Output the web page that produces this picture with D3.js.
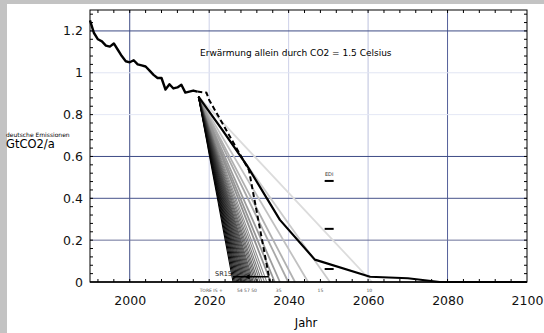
<!DOCTYPE html>
<html>
<head>
<meta charset="utf-8">
<script src="https://cdn.jsdelivr.net/npm/d3@7/dist/d3.min.js"></script>
<style>
  html, body { margin: 0; padding: 0; background: #c3c3c3; }
  svg { display: block; }
</style>
</head>
<body>
<div id="chart"></div>
<script>
// historical German emissions (GtCO2/a)
const histYears = [1990, 1991, 1992, 1993, 1994, 1995, 1996, 1997, 1998, 1999, 2000, 2001, 2002, 2003, 2004,
  2005, 2006, 2007, 2008, 2009, 2010, 2011, 2012, 2013, 2014, 2015, 2016, 2017];
const histValues = [1.25, 1.19, 1.16, 1.15, 1.13, 1.125, 1.14, 1.11, 1.08, 1.055, 1.05, 1.06, 1.04, 1.035, 1.03,
  1.01, 0.99, 0.975, 0.975, 0.92, 0.945, 0.925, 0.93, 0.943, 0.905, 0.91, 0.915, 0.91];

// dashed path
const dashYears = [2017, 2019.3, 2020, 2030, 2035.3];
const dashValues = [0.91, 0.905, 0.87, 0.535, 0];

// thick solid projection
const projYears = [2017.3, 2023.3, 2029.4, 2037.8, 2046.6, 2060.5, 2070, 2078, 2100];
const projValues = [0.886, 0.727, 0.56, 0.297, 0.107, 0.025, 0.018, 0, 0];

// fan of linear reduction paths: start point and end years
const fanStart = [2017.3, 0.886];
const fanEnds = [2026.0, 2026.3, 2026.6, 2026.9, 2027.2, 2027.5, 2027.8, 2028.1, 2028.4, 2028.7, 2029.0,
  2029.3, 2029.6, 2029.9, 2030.2, 2030.5, 2030.8, 2031.1, 2031.5, 2031.9, 2032.3, 2032.8, 2033.3, 2033.9,
  2034.5, 2035.5, 2036.5, 2037.8, 2039.9, 2041.6, 2044.9, 2050.4, 2061];

// EDI marks (year 2050)
const ediYear = 2050.2;
const ediValues = [0.483, 0.254, 0.062];

// SR15 bar
const sr15Years = [2026, 2035];
const sr15Value = 0.025;

// small budget labels under the axis
const budgetLabels = [
  { year: 2020.5, text: 'TORE IS +' },
  { year: 2029.5, text: '54  57  50' },
  { year: 2037.5, text: '35' },
  { year: 2048, text: '15' },
  { year: 2060.3, text: '10' }
];

const xTicks = [2000, 2020, 2040, 2060, 2080, 2100];
const yTicks = [0, 0.2, 0.4, 0.6, 0.8, 1, 1.2];

const W = 544, H = 333;
const svg = d3.select('#chart').append('svg')
  .attr('width', W)
  .attr('height', H);

// white panel on grey frame
svg.append('rect')
  .attr('x', 7).attr('y', 4)
  .attr('width', W - 7).attr('height', H - 4)
  .attr('fill', '#fff');

const x = d3.scaleLinear().domain([1990, 2100]).range([90, 527]);
const y = d3.scaleLinear().domain([0, 1.3]).range([282, 10]);

// grid lines, colours vary like the original
const vGridColor = { 2000: '#3d4b85', 2020: '#cdd1e8', 2040: '#cdd1e8', 2060: '#bcc2dd', 2080: '#55619a' };
const hGridColor = { 1.2: '#3d4b85', 1: '#e2e5f3', 0.8: '#e5e8f5', 0.6: '#3d4b85', 0.4: '#46538a', 0.2: '#6a7099' };

const g = svg.append('g');

g.selectAll('.vgrid')
  .data(xTicks.filter(d => d < 2100))
  .enter().append('line')
  .attr('x1', d => x(d)).attr('x2', d => x(d))
  .attr('y1', y(1.3)).attr('y2', y(0))
  .attr('stroke', d => vGridColor[d])
  .attr('stroke-width', 1);

g.selectAll('.hgrid')
  .data(yTicks.filter(d => d > 0))
  .enter().append('line')
  .attr('x1', x(1990)).attr('x2', x(2100))
  .attr('y1', d => y(d)).attr('y2', d => y(d))
  .attr('stroke', d => hGridColor[d])
  .attr('stroke-width', 1);

// fan
const fanColor = d3.scaleLinear()
  .domain([2026, 2034.5, 2045, 2061])
  .range(['#000000', '#8c8c8c', '#c2c2c2', '#dcdcdc']);

g.selectAll('.fan')
  .data(fanEnds.slice().reverse())
  .enter().append('line')
  .attr('x1', x(fanStart[0])).attr('y1', y(fanStart[1]))
  .attr('x2', d => x(d)).attr('y2', y(0))
  .attr('stroke', d => fanColor(d))
  .attr('stroke-width', d => d > 2034.5 ? 1.8 : 1.1);

const line = d3.line()
  .x(d => x(d[0]))
  .y(d => y(d[1]));

// historical
g.append('path')
  .datum(histYears.map((d, i) => [d, histValues[i]]))
  .attr('d', line)
  .attr('fill', 'none')
  .attr('stroke', '#000')
  .attr('stroke-width', 2.4)
  .attr('stroke-linejoin', 'round');

// dashed
g.append('path')
  .datum(dashYears.map((d, i) => [d, dashValues[i]]))
  .attr('d', line)
  .attr('fill', 'none')
  .attr('stroke', '#000')
  .attr('stroke-width', 2)
  .attr('stroke-dasharray', '5,3');

// projection
g.append('path')
  .datum(projYears.map((d, i) => [d, projValues[i]]))
  .attr('d', line)
  .attr('fill', 'none')
  .attr('stroke', '#000')
  .attr('stroke-width', 2.2)
  .attr('stroke-linejoin', 'round');

// EDI marks
g.selectAll('.edi')
  .data(ediValues)
  .enter().append('line')
  .attr('x1', x(ediYear) - 4.5).attr('x2', x(ediYear) + 4.5)
  .attr('y1', d => y(d)).attr('y2', d => y(d))
  .attr('stroke', '#000')
  .attr('stroke-width', 2);

g.append('text')
  .attr('x', x(ediYear)).attr('y', y(ediValues[0]) - 5)
  .attr('text-anchor', 'middle')
  .style('font', '5px "DejaVu Sans"')
  .attr('fill', '#333')
  .text('EDI');

// SR15 bar
g.append('line')
  .attr('x1', x(sr15Years[0])).attr('x2', x(sr15Years[1]))
  .attr('y1', y(sr15Value)).attr('y2', y(sr15Value))
  .attr('stroke', '#000')
  .attr('stroke-width', 1.6);
g.append('path')
  .attr('d', d3.symbol().type(d3.symbolTriangle).size(14))
  .attr('transform', `translate(${x(2029.8)},${y(sr15Value)}) rotate(-90)`)
  .attr('fill', '#000');
g.append('text')
  .attr('x', x(sr15Years[0]) - 1).attr('y', y(sr15Value) - 0.5)
  .attr('text-anchor', 'end')
  .style('font', '6.5px "DejaVu Sans"')
  .attr('fill', '#222')
  .text('SR15');

// budget labels
g.selectAll('.budget')
  .data(budgetLabels)
  .enter().append('text')
  .attr('x', d => x(d.year)).attr('y', y(0) + 10)
  .attr('text-anchor', 'middle')
  .style('font', '4.5px "DejaVu Sans"')
  .attr('fill', '#555')
  .text(d => d.text);

// frame and ticks
const frame = svg.append('g');
frame.append('rect')
  .attr('x', x(1990)).attr('y', y(1.3))
  .attr('width', x(2100) - x(1990)).attr('height', y(0) - y(1.3))
  .attr('fill', 'none')
  .attr('stroke', '#000')
  .attr('stroke-width', 1);
frame.append('line')
  .attr('x1', x(1990)).attr('x2', x(2100))
  .attr('y1', y(0)).attr('y2', y(0))
  .attr('stroke', '#000').attr('stroke-width', 1.6);

const minorX = d3.range(1992, 2100, 4);
const minorY = d3.range(0.04, 1.3, 0.04);

frame.selectAll('.tx')
  .data(minorX)
  .enter().append('line')
  .attr('x1', d => x(d)).attr('x2', d => x(d))
  .attr('y1', y(1.3)).attr('y2', y(1.3) + 3)
  .attr('stroke', '#000');
frame.selectAll('.bx')
  .data(minorX)
  .enter().append('line')
  .attr('x1', d => x(d)).attr('x2', d => x(d))
  .attr('y1', y(0)).attr('y2', y(0) - 3)
  .attr('stroke', '#000');
frame.selectAll('.ly')
  .data(minorY)
  .enter().append('line')
  .attr('x1', x(1990)).attr('x2', x(1990) + 3)
  .attr('y1', d => y(d)).attr('y2', d => y(d))
  .attr('stroke', '#000');
frame.selectAll('.ry')
  .data(minorY)
  .enter().append('line')
  .attr('x1', x(2100) - 3).attr('x2', x(2100))
  .attr('y1', d => y(d)).attr('y2', d => y(d))
  .attr('stroke', '#000');

// axes labels
const xAxis = svg.append('g')
  .attr('transform', `translate(0,${y(0)})`)
  .call(d3.axisBottom(x).tickValues(xTicks).tickFormat(d3.format('d')).tickSize(0).tickPadding(14));
xAxis.select('.domain').remove();
xAxis.selectAll('text').style('font', '12.5px "DejaVu Sans"').attr('fill', '#111');

const yAxis = svg.append('g')
  .attr('transform', `translate(${x(1990)},0)`)
  .call(d3.axisLeft(y).tickValues(yTicks).tickFormat(d => d === 0 || d === 1 ? d : d3.format('.1f')(d)).tickSize(0).tickPadding(7));
yAxis.select('.domain').remove();
yAxis.selectAll('text').style('font', '12.5px "DejaVu Sans"').attr('fill', '#111');

svg.append('text')
  .attr('x', 306).attr('y', 327)
  .attr('text-anchor', 'middle')
  .style('font', '11.5px "DejaVu Sans"')
  .text('Jahr');

svg.append('text')
  .attr('x', 6).attr('y', 137)
  .style('font', '6px "DejaVu Sans"')
  .attr('fill', '#000')
  .text('deutsche Emissionen');
svg.append('text')
  .attr('x', 6).attr('y', 148)
  .style('font', '11.5px "DejaVu Sans"')
  .text('GtCO2/a');

svg.append('text')
  .attr('x', 200).attr('y', 56)
  .style('font', '9px "DejaVu Sans"')
  .text('Erwärmung allein durch CO2 = 1.5 Celsius');
</script>
</body>
</html>
